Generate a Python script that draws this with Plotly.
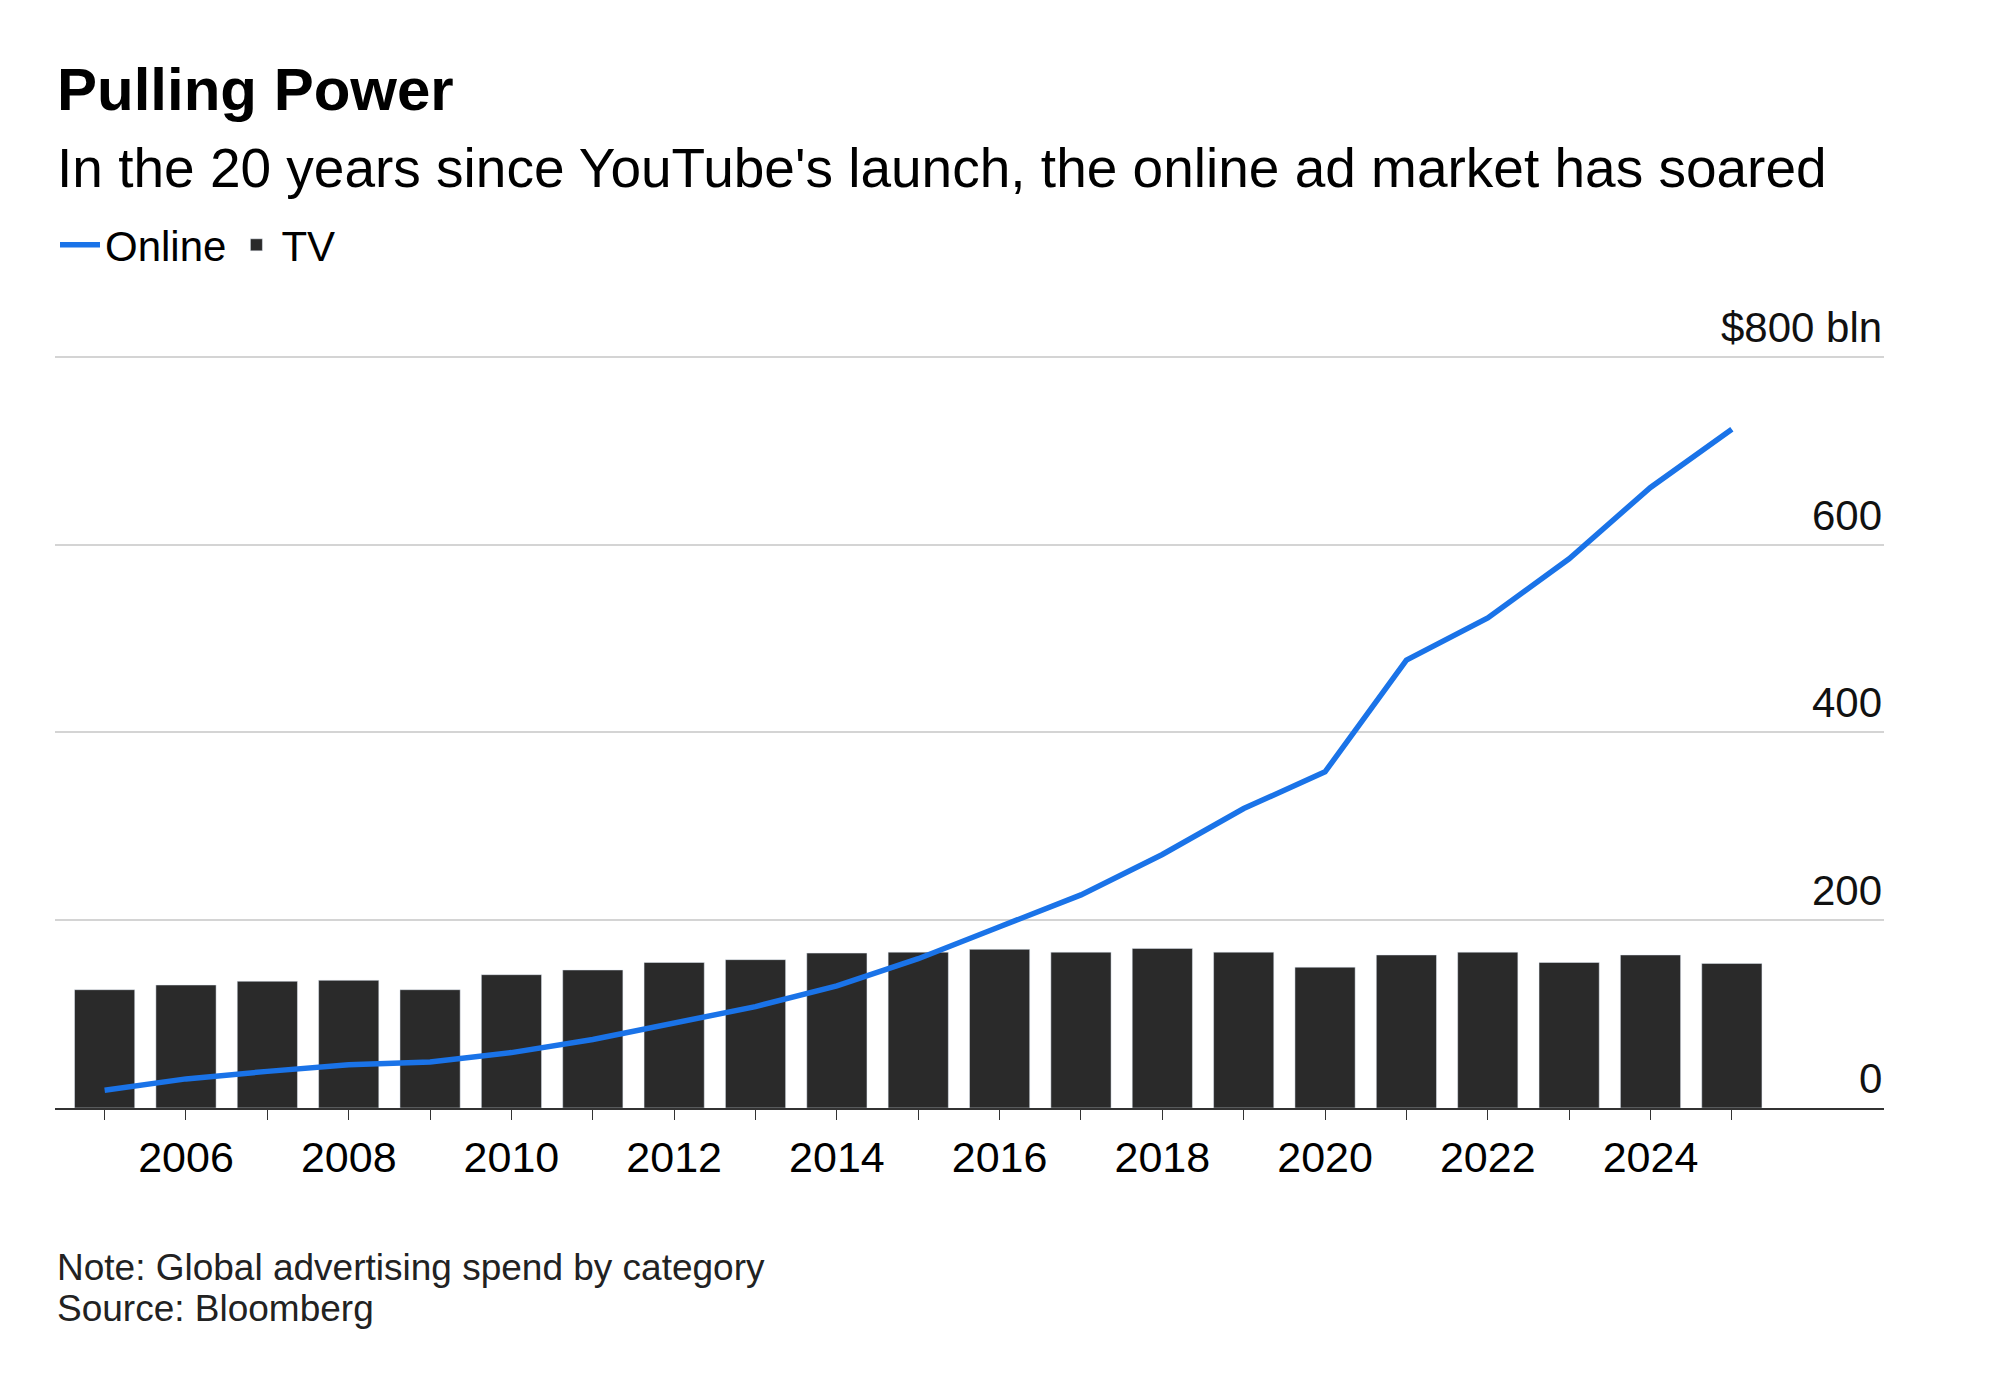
import plotly.graph_objects as go

years = list(range(2005, 2026))
tv = [126, 131, 135, 136, 126, 142, 147, 155, 158, 165, 166, 169, 166, 170, 166, 150, 163, 166, 155, 163, 154]
online = [19, 31, 39, 46, 49, 59, 73, 91, 108, 130, 159, 193, 227, 270, 319, 358, 477, 522, 585, 661, 723]
ytick_vals = [0, 200, 400, 600, 800]
ytick_text = ["0", "200", "400", "600", "$800 bln"]
xtick_vals = list(range(2006, 2025, 2))

F = "Liberation Sans, Arial, sans-serif"
TOP, BOT = 347, 1100
def py(p):
    return (BOT - p) / (BOT - TOP)

fig = go.Figure()
fig.add_bar(x=years, y=tv, name="TV", marker_color="#2a2a2a", width=0.74)
fig.add_scatter(x=years, y=online, name="Online", mode="lines",
                line=dict(color="#1a73e8", width=5.5))

fig.update_layout(
    width=2000, height=1379, plot_bgcolor="white", paper_bgcolor="white",
    margin=dict(l=47, r=124, t=TOP, b=1379 - BOT),
    font=dict(family=F, size=32, color="#000"),
    showlegend=True,
    legend=dict(orientation="h", x=0.0, xanchor="left", y=py(237), yanchor="middle",
                traceorder="reversed", font=dict(size=42), itemwidth=40),
    xaxis=dict(range=[2004.39, 2026.87], tickvals=xtick_vals, ticktext=[str(v) for v in xtick_vals],
               ticks="outside", ticklen=10, tickcolor="#333", showgrid=False,
               showline=True, linecolor="#333", linewidth=2,
               minor=dict(tickvals=years, ticks="outside", ticklen=10, tickcolor="#333", showgrid=False),
               tickfont=dict(size=43)),
    yaxis=dict(range=[0, 802], side="right", tickvals=ytick_vals, showticklabels=False,
               showgrid=True, gridcolor="#d4d4d4", gridwidth=2, zeroline=False),
)

for v, t in zip(ytick_vals, ytick_text):
    fig.add_annotation(text=t, xref="paper", yref="y", x=1, y=v, xanchor="right", yanchor="bottom",
                       yshift=4, showarrow=False, font=dict(size=42, family=F, color="#111"))

fig.add_annotation(text="<b>Pulling Power</b>", xref="paper", yref="paper", x=0, y=py(81),
                   xanchor="left", yanchor="middle", showarrow=False, font=dict(size=60, family=F))
fig.add_annotation(text="In the 20 years since YouTube's launch, the online ad market has soared",
                   xref="paper", yref="paper", x=0, y=py(160),
                   xanchor="left", yanchor="middle", showarrow=False, font=dict(size=55, family=F))
fig.add_annotation(text="Note: Global advertising spend by category",
                   xref="paper", yref="paper", x=0, y=py(1259), xanchor="left", yanchor="middle",
                   showarrow=False, font=dict(size=37, family=F, color="#222"))
fig.add_annotation(text="Source: Bloomberg",
                   xref="paper", yref="paper", x=0, y=py(1300), xanchor="left", yanchor="middle",
                   showarrow=False, font=dict(size=37, family=F, color="#222"))
fig.write_html("out.html")
